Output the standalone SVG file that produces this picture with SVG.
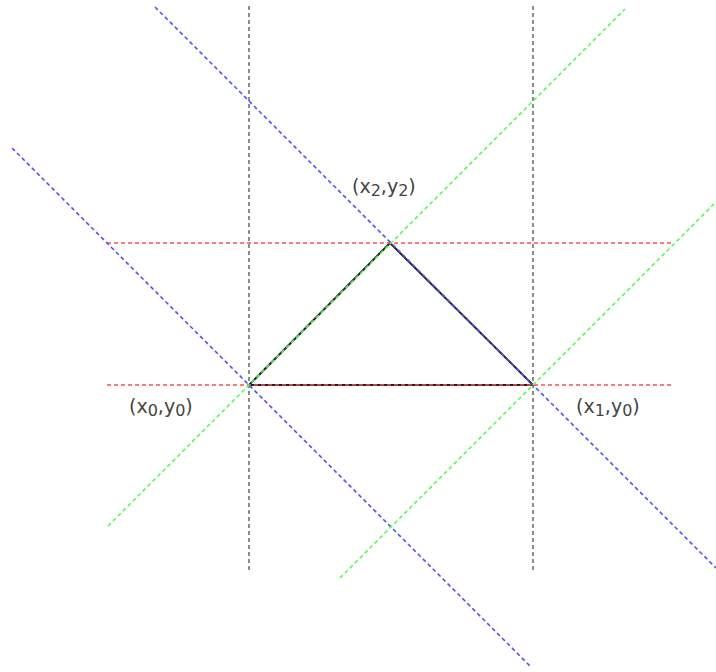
<svg xmlns="http://www.w3.org/2000/svg" width="716" height="672" viewBox="0 0 716 672">
<style>
.d{fill:none;stroke-width:1.6;stroke-dasharray:4 3}
.gray{stroke:#707070}
.red{stroke:#ff5050}
.blue{stroke:#5050ff}
.green{stroke:#50ff50}
.lbl{font-family:"DejaVu Sans",sans-serif;font-size:19px;fill:#444}
.sub{font-size:16px}
</style>
<rect width="716" height="672" fill="#fff"/>
<g id="triangle">
<polygon points="249,385 533,385 390,243" fill="none" stroke="#222" stroke-width="2"/>
</g>
<g id="connectors">
<line class="d gray" x1="249" y1="6" x2="249" y2="573"/>
<line class="d gray" x1="533" y1="6" x2="533" y2="573"/>
<line class="d red" x1="107" y1="243" x2="672" y2="243"/>
<line class="d red" x1="107" y1="385" x2="672" y2="385"/>
<line class="d blue" x1="155" y1="7" x2="716" y2="568"/>
<line class="d blue" x1="12" y1="148" x2="530" y2="666"/>
<line class="d green" x1="108" y1="526" x2="625" y2="9"/>
<line class="d green" x1="340" y1="578" x2="716" y2="202"/>
</g>
<g id="label-x2y2"><text class="lbl" x="352" y="193">(x<tspan class="sub" dy="3">2</tspan><tspan dy="-3">,y</tspan><tspan class="sub" dy="3">2</tspan><tspan dy="-3">)</tspan></text></g>
<g id="label-x0y0"><text class="lbl" x="129" y="413">(x<tspan class="sub" dy="3">0</tspan><tspan dy="-3">,y</tspan><tspan class="sub" dy="3">0</tspan><tspan dy="-3">)</tspan></text></g>
<g id="label-x1y0"><text class="lbl" x="576" y="413">(x<tspan class="sub" dy="3">1</tspan><tspan dy="-3">,y</tspan><tspan class="sub" dy="3">0</tspan><tspan dy="-3">)</tspan></text></g>
</svg>
